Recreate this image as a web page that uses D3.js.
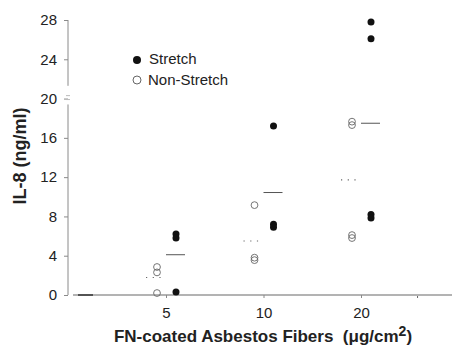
<!DOCTYPE html>
<html>
<head>
<meta charset="utf-8">
<script src="https://cdn.jsdelivr.net/npm/d3@7"></script>
<style>
  body { margin: 0; background: #fff; }
  svg { display: block; font-family: "Liberation Sans", Arial, sans-serif; }
</style>
</head>
<body>
<div id="chart"></div>
<script>
// Fiber dose categories (µg/cm2) and IL-8 values (ng/ml)
const doses = [5, 10, 20];
const stretchValues = [
    [6.2, 5.8, 0.3],
    [17.2, 7.2, 6.9],
    [27.8, 26.1, 8.2, 7.85]
];
const nonStretchValues = [
    [2.85, 2.3, 0.2],
    [9.15, 3.8, 3.55],
    [17.65, 17.3, 6.1, 5.8]
];
const controlValues = [0, 0, 0];
const yTicks = [0, 4, 8, 12, 16, 20, 24, 28];

const width = 452;
const height = 345;

const svg = d3.select('#chart').append('svg')
    .attr('width', width)
    .attr('height', height);

// Scales: dose index -> x, IL-8 -> y
const x = d3.scaleLinear().domain([1, 3]).range([166, 361]);
const y = d3.scaleLinear().domain([0, 28]).range([295, 20]);
const axisColor = '#8a8a8a';

// Y axis (ticks and labels), line drawn separately because of the break
const yAxis = svg.append('g')
    .attr('transform', 'translate(68,0)')
    .call(d3.axisLeft(y).tickValues(yTicks).tickSize(4).tickPadding(7));
yAxis.select('.domain').remove();
yAxis.selectAll('.tick line').attr('stroke', axisColor);
yAxis.selectAll('.tick text')
    .attr('fill', '#222')
    .style('font-size', '15px')
    .style('font-family', '"Liberation Sans", Arial, sans-serif');

// broken axis line
svg.append('line').attr('x1', 68).attr('x2', 68)
    .attr('y1', y(28)).attr('y2', y(21.3))
    .attr('stroke', axisColor);
svg.append('line').attr('x1', 68).attr('x2', 68)
    .attr('y1', y(19.4)).attr('y2', y(0))
    .attr('stroke', axisColor);
[20.3, 19.9].forEach(v => {
    svg.append('line').attr('x1', 66).attr('x2', 70)
        .attr('y1', y(v)).attr('y2', y(v))
        .attr('stroke', '#bbb');
});

// X axis
svg.append('line')
    .attr('x1', 73).attr('x2', width)
    .attr('y1', y(0)).attr('y2', y(0))
    .attr('stroke', '#9a9a9a')
    .attr('stroke-width', 1.5);

const xAxis = svg.append('g')
    .attr('transform', `translate(0,${y(0)})`)
    .call(d3.axisBottom(x).tickValues([1, 2, 3]).tickFormat(i => doses[i - 1])
        .tickSize(3).tickPadding(9));
xAxis.select('.domain').remove();
xAxis.selectAll('.tick line').attr('stroke', axisColor);
xAxis.selectAll('.tick text')
    .attr('fill', '#222')
    .style('font-size', '15px')
    .style('font-family', '"Liberation Sans", Arial, sans-serif');
// small extra tick on the right
svg.append('line')
    .attr('x1', x(3.58)).attr('x2', x(3.58))
    .attr('y1', y(0) + 1).attr('y2', y(0) + 3)
    .attr('stroke', '#666');

// Control (no fibers) mean line
svg.append('line')
    .attr('x1', 78).attr('x2', 93)
    .attr('y1', y(d3.mean(controlValues))).attr('y2', y(d3.mean(controlValues)))
    .attr('stroke', '#333')
    .attr('stroke-width', 1.5);

// Mean lines
doses.forEach((d, i) => {
    const cx = x(i + 1);
    svg.append('line')
        .attr('x1', cx).attr('x2', cx + 19)
        .attr('y1', y(d3.mean(stretchValues[i]))).attr('y2', y(d3.mean(stretchValues[i])))
        .attr('stroke', '#555');
    svg.append('line')
        .attr('x1', cx - 20).attr('x2', cx - 3)
        .attr('y1', y(d3.mean(nonStretchValues[i]))).attr('y2', y(d3.mean(nonStretchValues[i])))
        .attr('stroke', '#666')
        .attr('stroke-width', 1.2)
        .attr('stroke-dasharray', '1.2,5.5');
});

// Points
const stretchPts = stretchValues.flatMap((vals, i) => vals.map(v => ({ i: i + 1, v })));
const nonStretchPts = nonStretchValues.flatMap((vals, i) => vals.map(v => ({ i: i + 1, v })));

svg.selectAll('.ns')
    .data(nonStretchPts)
    .enter().append('circle')
    .attr('class', 'ns')
    .attr('cx', d => x(d.i) - 9)
    .attr('cy', d => y(d.v))
    .attr('r', 3.4)
    .attr('fill', 'none')
    .attr('stroke', '#666')
    .attr('stroke-width', 0.9);

svg.selectAll('.st')
    .data(stretchPts)
    .enter().append('circle')
    .attr('class', 'st')
    .attr('cx', d => x(d.i) + 10)
    .attr('cy', d => y(d.v))
    .attr('r', 3.5)
    .attr('fill', '#111');

// Legend
const legend = svg.append('g');
legend.append('circle').attr('cx', 137).attr('cy', 60).attr('r', 4).attr('fill', '#111');
legend.append('text').attr('x', 149).attr('y', 64).text('Stretch')
    .style('font-size', '15px').attr('fill', '#222');
legend.append('circle').attr('cx', 137).attr('cy', 80).attr('r', 4)
    .attr('fill', 'none').attr('stroke', '#555').attr('stroke-width', 0.9);
legend.append('text').attr('x', 148).attr('y', 85).text('Non-Stretch')
    .style('font-size', '15px').attr('fill', '#222');

// Axis titles
svg.append('text')
    .attr('transform', 'translate(26,156) rotate(-90)')
    .attr('text-anchor', 'middle')
    .style('font-size', '18px')
    .style('font-weight', 'bold')
    .attr('fill', '#222')
    .text('IL-8 (ng/ml)');

const xTitle = svg.append('text')
    .attr('x', 263).attr('y', 342)
    .attr('text-anchor', 'middle')
    .style('font-size', '17px')
    .style('font-weight', 'bold')
    .attr('fill', '#222');
xTitle.append('tspan').text('FN-coated Asbestos Fibers\u00a0\u00a0(\u03bcg/cm');
xTitle.append('tspan').attr('dy', -6).style('font-size', '14px').text('2');
xTitle.append('tspan').attr('dy', 6).text(')');
</script>
</body>
</html>
